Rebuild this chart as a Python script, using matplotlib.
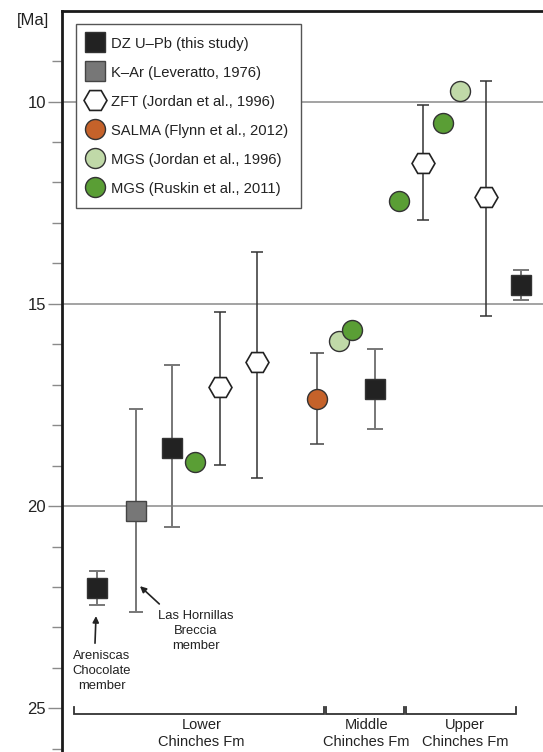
import numpy as np
import matplotlib.pyplot as plt
from matplotlib.lines import Line2D

plt.rcParams['font.family'] = ['Liberation Sans', 'DejaVu Sans']

# stratigraphic position (arbitrary units along section) and ages in Ma
dz_x = [35, 110, 313, 459]
dz_age = [22.03, 18.56, 17.1, 14.53]
dz_min = [21.6, 16.51, 16.12, 14.17]
dz_max = [22.45, 20.51, 18.1, 14.9]

kar_x = [74]
kar_age = [20.11]
kar_min = [17.61]
kar_max = [22.61]

zft_x = [158, 195, 361, 424]
zft_age = [17.06, 16.43, 11.51, 12.37]
zft_min = [15.19, 13.72, 10.08, 9.49]
zft_max = [18.98, 19.3, 12.93, 15.3]

salma_x = [255]
salma_age = [17.35]
salma_min = [16.22]
salma_max = [18.47]

mgsj_x = [277, 398]
mgsj_age = [15.91, 9.73]

mgsr_x = [133, 290, 337, 381]
mgsr_age = [18.9, 15.64, 12.45, 10.53]

# formation brackets: (start, end, label, label centre)
units = [(12, 262, 'Lower\nChinches Fm', 139.7),
         (264, 342, 'Middle\nChinches Fm', 304.7),
         (344, 454, 'Upper\nChinches Fm', 403.3)]


def yerr(age, lo, hi):
    age = np.array(age)
    return [age - np.array(lo), np.array(hi) - age]


fig = plt.figure(figsize=(5.43, 7.52), dpi=100)
ax = fig.add_axes([62 / 543, 0, 481 / 543, 741 / 752])
ax.set_xlim(0, 481)
ax.set_ylim(26.08, 7.76)

for v in [10, 15, 20]:
    ax.axhline(v, color='#8a8a8a', lw=1.1, zorder=1)

ecol = '#777777'
ax.errorbar(dz_x, dz_age, yerr=yerr(dz_age, dz_min, dz_max), fmt='none',
            ecolor=ecol, elinewidth=1.4, capsize=5.5, capthick=1.4, zorder=2)
ax.errorbar(kar_x, kar_age, yerr=yerr(kar_age, kar_min, kar_max), fmt='none',
            ecolor=ecol, elinewidth=1.4, capsize=5, capthick=1.4, zorder=2)
ax.errorbar(zft_x, zft_age, yerr=yerr(zft_age, zft_min, zft_max), fmt='none',
            ecolor='#333333', elinewidth=1.1, capsize=4.5, capthick=1.1, zorder=2)
ax.errorbar(salma_x, salma_age, yerr=yerr(salma_age, salma_min, salma_max), fmt='none',
            ecolor='#444444', elinewidth=1.1, capsize=5, capthick=1.1, zorder=2)

ax.plot(dz_x, dz_age, 's', ms=15, mfc='#222222', mec='#333333', mew=1, zorder=3)
ax.plot(kar_x, kar_age, 's', ms=15, mfc='#777777', mec='#444444', mew=1, zorder=3)
ax.plot(zft_x, zft_age, 'H', ms=16.5, mfc='white', mec='#222222', mew=1.2, zorder=3)
ax.plot(salma_x, salma_age, 'o', ms=14.4, mfc='#c5622a', mec='#333333', mew=1, zorder=3)
ax.plot(mgsj_x, mgsj_age, 'o', ms=14.4, mfc='#c0d9a8', mec='#333333', mew=1, zorder=3)
ax.plot(mgsr_x, mgsr_age, 'o', ms=14.4, mfc='#5a9e35', mec='#333333', mew=1, zorder=3)

# formation brackets
for x0, x1, lab, xc in units:
    ax.plot([x0, x0, x1, x1], [24.96, 25.15, 25.15, 24.96], color='#333333', lw=1.3,
            solid_joinstyle='miter', zorder=2)
    ax.text(xc, 25.62, lab, ha='center', va='center', fontsize=10.5,
            linespacing=1.25, color='#222222')

arrow = dict(arrowstyle='-|>', color='#222222', lw=1.2, shrinkA=0, shrinkB=0,
             mutation_scale=9)
ax.annotate('', xy=(34, 22.72), xytext=(33, 23.39), arrowprops=arrow)
ax.annotate('', xy=(78, 21.98), xytext=(97.3, 22.42), arrowprops=arrow)
ax.text(39.7, 24.07, 'Areniscas\nChocolate\nmember', ha='center', va='center',
        fontsize=9.4, linespacing=1.33, color='#222222')
ax.text(134, 23.1, 'Las Hornillas\nBreccia\nmember', ha='center', va='center',
        fontsize=9.4, linespacing=1.33, color='#222222')

# axes styling
ax.spines['right'].set_visible(False)
ax.spines['bottom'].set_visible(False)
ax.spines['left'].set_linewidth(2)
ax.spines['top'].set_linewidth(2)
ax.spines['left'].set_color('#1a1a1a')
ax.spines['top'].set_color('#1a1a1a')
ax.set_xticks([])
ax.set_yticks([10, 15, 20, 25])
ax.set_yticks(np.arange(9, 27), minor=True)
ax.tick_params(axis='y', which='major', length=10, width=1, color='#8a8a8a',
               labelsize=12, pad=1.5, labelcolor='#222222')
ax.tick_params(axis='y', which='minor', length=7.5, width=1, color='#8a8a8a')
fig.text(33 / 543, 1 - 20 / 752, '[Ma]', ha='center', va='center', fontsize=12,
         color='#222222')

handles = [
    Line2D([], [], ls='none', marker='s', ms=15, mfc='#222222', mec='#333333'),
    Line2D([], [], ls='none', marker='s', ms=15, mfc='#777777', mec='#444444'),
    Line2D([], [], ls='none', marker='H', ms=16.5, mfc='white', mec='#222222', mew=1.2),
    Line2D([], [], ls='none', marker='o', ms=14.4, mfc='#c5622a', mec='#333333'),
    Line2D([], [], ls='none', marker='o', ms=14.4, mfc='#c0d9a8', mec='#333333'),
    Line2D([], [], ls='none', marker='o', ms=14.4, mfc='#5a9e35', mec='#333333'),
]
labels = ['DZ U\u2013Pb (this study)', 'K\u2013Ar (Leveratto, 1976)',
          'ZFT (Jordan et al., 1996)', 'SALMA (Flynn et al., 2012)',
          'MGS (Jordan et al., 1996)', 'MGS (Ruskin et al., 2011)']
leg = ax.legend(handles, labels, loc='upper left', bbox_to_anchor=(14 / 481, 1 - 13 / 741),
                fontsize=10.6, frameon=True, fancybox=False, borderaxespad=0,
                labelspacing=1.02, handlelength=0.9, handletextpad=0.65,
                borderpad=0.85, framealpha=1)
leg.get_frame().set_edgecolor('#555555')
leg.get_frame().set_linewidth(1)
for t in leg.get_texts():
    t.set_color('#222222')

fig.savefig('out.png', dpi=100)
